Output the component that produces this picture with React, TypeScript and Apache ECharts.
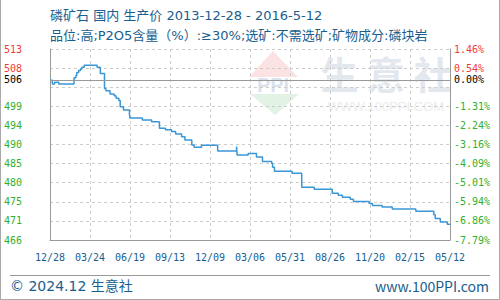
import React, { useEffect, useRef } from "react";
import * as echarts from "echarts";

const changeDates = [
  "2013-12-28", "2014-01-02", "2014-01-07", "2014-01-16", "2014-02-18", "2014-02-22",
  "2014-02-24", "2014-02-28", "2014-03-04", "2014-03-07", "2014-03-12", "2014-04-09",
  "2014-04-16", "2014-04-25", "2014-04-28", "2014-05-07", "2014-05-16", "2014-05-20",
  "2014-05-26", "2014-05-29", "2014-06-05", "2014-06-18", "2014-06-19", "2014-07-16",
  "2014-08-05", "2014-08-22", "2014-09-04", "2014-09-17", "2014-09-26", "2014-10-09",
  "2014-10-16", "2014-10-31", "2014-11-05", "2014-11-21", "2014-12-26", "2015-02-05",
  "2015-02-06", "2015-03-02", "2015-03-20", "2015-04-02", "2015-04-22", "2015-04-24",
  "2015-04-28", "2015-06-05", "2015-06-26", "2015-07-23", "2015-08-31", "2015-09-13",
  "2015-09-22", "2015-10-09", "2015-10-16", "2015-11-19", "2015-11-26", "2015-12-17",
  "2016-01-08", "2016-02-28", "2016-04-07", "2016-04-10", "2016-04-21", "2016-05-06",
  "2016-05-12",
];
const prices = [
  505.3, 504.4, 504.8, 504.4, 505.9, 506.5,
  507.2, 507.7, 508.1, 508.5, 509.0, 508.5,
  507.0, 503.3, 502.7, 501.9, 501.5, 500.9,
  500.3, 498.8, 498.0, 497.0, 496.0, 495.5,
  495.1, 493.5, 493.1, 492.7, 492.1, 491.4,
  490.6, 489.4, 488.8, 489.3, 487.9, 489.0,
  486.9, 487.3, 486.4, 485.3, 484.8, 483.9,
  482.9, 482.4, 479.0, 478.5, 477.5, 477.0,
  476.5, 476.0, 475.5, 475.0, 474.5, 474.1,
  473.6, 473.1, 472.2, 471.3, 470.4, 469.9,
  469.9,
];
const xTickLabels = ["12/28", "03/24", "06/19", "09/13", "12/09", "03/06", "05/31", "08/26", "11/20", "02/15", "05/12"];
const leftTickLabels = ["466", "471", "475", "480", "485", "490", "494", "499", "", "508", "513"];
const rightTickLabels = ["-7.79%", "-6.86%", "-5.94%", "-5.01%", "-4.09%", "-3.16%", "-2.24%", "-1.31%", "", "0.54%", "1.46%"];
const baseValue = 505.4;
const baseLabel = "506";
const baseChange = "0.00%";
const priceMin = 466;
const priceMax = 513;
const startDate = "2013-12-28";
const endDate = "2016-05-12";

const MONO = '"DejaVu Sans Mono", monospace';
const CJK = '"Noto Sans CJK SC", "Noto Sans", sans-serif';
const TITLE_FONT = '"DejaVu Sans", "Noto Sans CJK SC", sans-serif';
const BLUE = "#1a5e8e";
const RED = "#f03a3a";
const GREEN = "#2fb02f";

export default function App() {
  const ref = useRef<HTMLDivElement>(null);
  useEffect(() => {
    if (!ref.current) return;
    const chart = echarts.init(ref.current, null, { renderer: "svg" });
    const labelColor = (v: any) => (Math.round(Number(v)) >= 9 ? RED : GREEN);
    chart.setOption({
      animation: false,
      backgroundColor: "#fff",
      grid: { left: 50, right: 50, top: 49, bottom: 60, containLabel: false, outerBoundsMode: "none" },
      xAxis: [
        { type: "time", min: startDate, max: endDate, show: false },
        {
          type: "category",
          data: xTickLabels,
          boundaryGap: false,
          position: "bottom",
          axisLine: { show: true, lineStyle: { color: "#999", width: 1 } },
          axisTick: { show: false },
          splitLine: { show: true, lineStyle: { color: "#ccc", type: [3, 3], width: 1 } },
          axisLabel: { interval: 0, margin: 12, color: BLUE, fontFamily: MONO, fontSize: 10 },
        },
      ],
      yAxis: [
        {
          type: "value", min: 0, max: 10, interval: 1, position: "left",
          axisLine: { show: true, lineStyle: { color: "#999" } },
          axisTick: { show: false },
          splitLine: { show: true, lineStyle: { color: "#ccc", type: [3, 3], width: 1 } },
          axisLabel: {
            formatter: (v: number) => leftTickLabels[Math.round(v)],
            color: labelColor, align: "left", margin: 46, fontFamily: MONO, fontSize: 10,
          },
        },
        {
          type: "value", min: 0, max: 10, interval: 1, position: "right",
          axisLine: { show: true, lineStyle: { color: "#999" } },
          axisTick: { show: false },
          splitLine: { show: false },
          axisLabel: {
            formatter: (v: number) => rightTickLabels[Math.round(v)],
            color: labelColor, align: "left", margin: 4, fontFamily: MONO, fontSize: 10,
          },
        },
        {
          type: "value", min: priceMin, max: priceMax, position: "left",
          axisLine: { show: false }, axisTick: { show: false }, splitLine: { show: false },
          axisLabel: {
            customValues: [baseValue], formatter: () => baseLabel,
            color: "#000", align: "left", margin: 46, fontFamily: MONO, fontSize: 10,
          },
        },
        {
          type: "value", min: priceMin, max: priceMax, position: "right",
          axisLine: { show: false }, axisTick: { show: false }, splitLine: { show: false },
          axisLabel: {
            customValues: [baseValue], formatter: () => baseChange,
            color: "#000", align: "left", margin: 4, fontFamily: MONO, fontSize: 10,
          },
        },
      ],
      series: [
        {
          type: "line",
          xAxisIndex: 0,
          yAxisIndex: 2,
          step: "end",
          showSymbol: false,
          symbol: "none",
          lineStyle: { color: "#3a97d6", width: 1.5 },
          data: changeDates.map((d, i) => [d, prices[i]]),
          markLine: {
            silent: true,
            symbol: "none",
            label: { show: false },
            lineStyle: { color: "#999", type: "solid", width: 1.2 },
            data: [{ yAxis: baseValue }],
          },
          z: 3,
        },
      ],
      graphic: [
        // watermark
        { type: "polygon", shape: { points: [[273, 51], [249, 77], [298, 77]] }, style: { fill: "#fbe3e3" }, z: 0 },
        { type: "text", x: 273, y: 85, style: { text: "PPI", fontSize: 20, fontWeight: "bold", fontFamily: "Arial, sans-serif", fill: "#dbe2ee", align: "center", verticalAlign: "middle" }, z: 0 },
        { type: "polygon", shape: { points: [[250, 94], [299, 94], [275, 115]] }, style: { fill: "#e2f2e4" }, z: 0 },
        { type: "text", x: 386, y: 72, style: { text: "生 意 社", fontSize: 38, fontWeight: "bold", fontFamily: CJK, fill: "#e3e7ee", align: "center", verticalAlign: "middle" }, z: 0 },
        { type: "text", x: 386, y: 106, style: { text: "WWW.100PPI.COM", fontSize: 13, fontFamily: "Arial, sans-serif", fill: "#ececec", align: "center", verticalAlign: "middle" }, z: 0 },
        // titles
        { type: "text", x: 50, y: 15, style: { text: "磷矿石 国内 生产价 2013-12-28 - 2016-5-12", fontSize: 13, fontFamily: TITLE_FONT, fill: BLUE, verticalAlign: "middle" } },
        { type: "text", x: 50, y: 35, style: { text: "品位:高;P2O5含量（%）:≥30%;选矿:不需选矿;矿物成分:磷块岩", fontSize: 13, fontFamily: TITLE_FONT, fill: BLUE, verticalAlign: "middle" } },
        // footer
        { type: "line", shape: { x1: 10, y1: 275.5, x2: 490, y2: 275.5 }, style: { stroke: "#999", lineWidth: 1 } },
        { type: "text", x: 10, y: 286, style: { text: "© 2024.12 生意社", fontSize: 14, fontFamily: TITLE_FONT, fill: BLUE, verticalAlign: "middle" } },
        { type: "text", x: 489, y: 286, style: { text: "www.100PPI.com", fontSize: 14, fontFamily: CJK, fill: BLUE, align: "right", verticalAlign: "middle" } },
        // outer frame
        { type: "line", shape: { x1: 0.5, y1: 0, x2: 0.5, y2: 299.5 }, style: { stroke: "#aaa", lineWidth: 1 } },
        { type: "line", shape: { x1: 499.5, y1: 0, x2: 499.5, y2: 299.5 }, style: { stroke: "#aaa", lineWidth: 1 } },
        { type: "line", shape: { x1: 0, y1: 299.5, x2: 500, y2: 299.5 }, style: { stroke: "#aaa", lineWidth: 1 } },
      ],
    });
    return () => chart.dispose();
  }, []);
  return <div ref={ref} style={{ position: "absolute", left: 0, top: 0, width: 500, height: 300 }} />;
}
